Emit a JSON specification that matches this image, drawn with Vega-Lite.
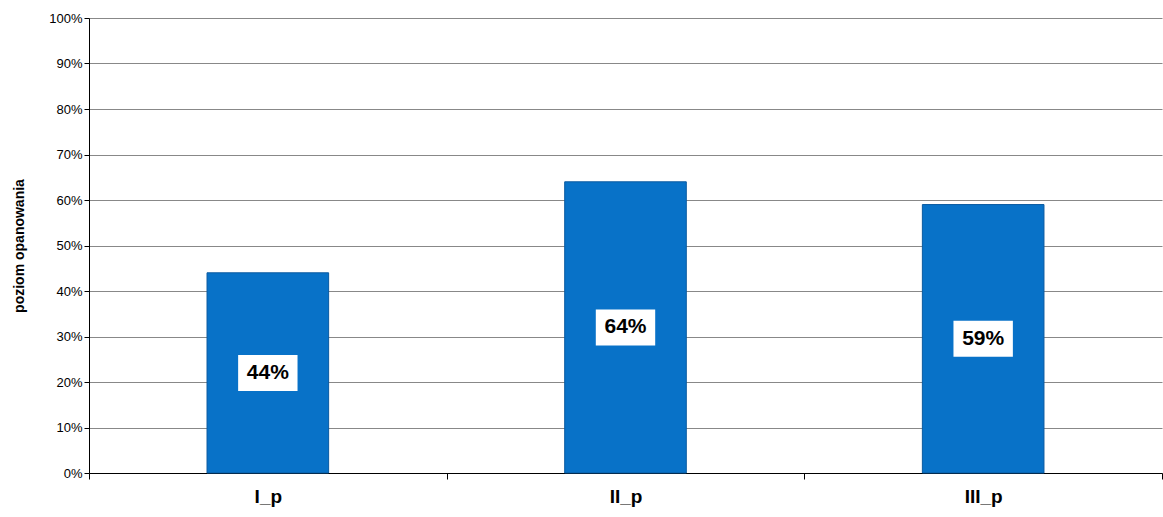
{
"$schema":"https://vega.github.io/schema/vega-lite/v6.json",
"width":1163,"height":517,
"autosize":{"type":"fit","contains":"padding"},
"padding":{"left":12,"top":12,"right":0,"bottom":11},
"config":{"view":{"stroke":null},"font":"Liberation Sans"},
"data":{"values":[{"k":"I_p","v":0.44},{"k":"II_p","v":0.64},{"k":"III_p","v":0.59}]},
"encoding":{"x":{"field":"k","type":"nominal","sort":null,"scale":{"paddingInner":0,"paddingOuter":0},
"axis":{"title":null,"labelAngle":0,"labelFontSize":19,"labelFontWeight":"bold","labelColor":"#000","domainColor":"#000","tickColor":"#000","tickBand":"extent","tickSize":6,"labelPadding":8}}},
"layer":[
{"mark":{"type":"bar","color":"#0872c8","stroke":"#0a5aa0","strokeWidth":1,"width":{"band":0.34}},
"encoding":{"y":{"field":"v","type":"quantitative","scale":{"domain":[0,1]},
"axis":{"format":".0%","tickCount":10,"title":"poziom opanowania","titleFontSize":14,"titleFontWeight":"bold","titleColor":"#000","labelFontSize":13,"labelColor":"#000","gridColor":"#888","domainColor":"#000","tickColor":"#000","titlePadding":22}}}},
{"transform":[{"calculate":"datum.v/2","as":"m"}],
"mark":{"type":"point","filled":true,"color":"white","opacity":1,"size":1296,"shape":"M-1.65,-1L1.65,-1L1.65,1L-1.65,1Z"},
"encoding":{"y":{"field":"m","type":"quantitative"}}},
{"transform":[{"calculate":"datum.v/2","as":"m"}],
"mark":{"type":"text","fontSize":21,"fontWeight":"bold","color":"#000"},
"encoding":{"y":{"field":"m","type":"quantitative"},"text":{"field":"v","type":"quantitative","format":".0%"}}}
]}
